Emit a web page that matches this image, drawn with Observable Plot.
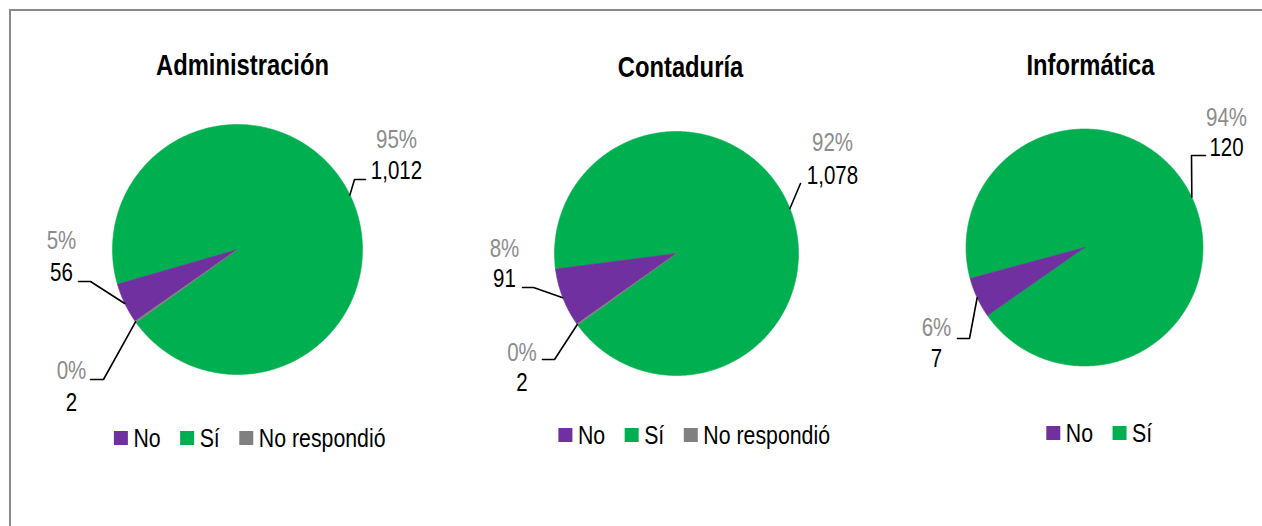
<!DOCTYPE html>
<html><head><meta charset="utf-8">
<script src="https://cdn.jsdelivr.net/npm/d3@7"></script>
<script src="https://cdn.jsdelivr.net/npm/@observablehq/plot@0.6"></script>
<style>
body{margin:0;background:#fff;}
#wrap{position:relative;width:1262px;height:526px;overflow:hidden;background:#fff;}
#border{position:absolute;left:9px;top:9px;width:1300px;height:600px;border:2px solid #8a8a8a;box-sizing:border-box;pointer-events:none;}
#chart{position:absolute;left:0;top:0;}
</style></head><body>
<div id="wrap"><div id="chart"></div><div id="border"></div></div>
<script>
// ---- data ----
const categories = ["No", "Sí", "No respondió"];
const titles = ["Administración", "Contaduría", "Informática"];
const administracion = [56, 1012, 2];
const contaduria = [91, 1078, 2];
const informatica = [7, 120];
const seriesList = [administracion, contaduria, informatica];

// ---- styles / layout ----
const colors = {"No": "#7030A0", "Sí": "#00B050", "No respondió": "#808080"};
const FONT = "'Liberation Sans', Arial, sans-serif";
const NARROW = 0.82; // horizontal condensing to mimic a narrow face
const W = 1262, H = 526;
const pies = [
  {cx: 237, cy: 249, r: 125, start: 235, titleX: 242, titleY: 65, legendX: 249.5, legendY: 438},
  {cx: 676, cy: 253, r: 122, start: 234.7, titleX: 680, titleY: 67, legendX: 694, legendY: 435},
  {cx: 1084, cy: 247, r: 118.5, start: 235, titleX: 1090, titleY: 65, legendX: 1099, legendY: 433}
];
// label placement: [label centre x, pct y, value y, leader points after the slice edge]
const labelLayout = [
  [[61, 240, 272, [[90, 281], [78, 281]]], [396, 139, 170, [[354, 179], [365, 179]]], [71, 370, 402, [[103, 379], [90, 379]]]],
  [[504, 248, 278, [[533, 287], [522, 287]]], [832, 142, 175, [[800, 183]]], [521.5, 352, 382, [[554, 359], [542, 359]]]],
  [[936, 327, 358, [[969, 338], [957, 338]]], [1226, 117, 147, [[1191, 155], [1205, 155]]]]
];

const rad = d => d * Math.PI / 180;
const pt = (p, a, r) => [p.cx + Math.sin(rad(a)) * r, p.cy - Math.cos(rad(a)) * r];

const marks = [];
const fmt = d3.format(",");
const ctx = document.createElement("canvas").getContext("2d");
ctx.font = `26px ${FONT}`;

seriesList.forEach((vals, i) => {
  const p = pies[i];
  const total = d3.sum(vals);
  let a = p.start;
  const slices = vals.map((v, j) => {
    const span = v / total * 360;
    const s = {cat: categories[j], v, a0: a, a1: a + span, pct: Math.round(v / total * 100)};
    a += span;
    return s;
  });
  const order = slices.map((s, j) => j).sort((x, y) => slices[y].v - slices[x].v);
  order.forEach(j => {
    const s = slices[j];
    const pts = [[p.cx, p.cy]];
    const n = Math.max(2, Math.ceil((s.a1 - s.a0) / 0.5));
    for (let k = 0; k <= n; k++) pts.push(pt(p, s.a0 + (s.a1 - s.a0) * k / n, p.r));
    pts.push([p.cx, p.cy]);
    marks.push(Plot.line(pts, {x: d => d[0], y: d => d[1], fill: colors[s.cat], stroke: colors[s.cat], strokeWidth: 0.6, curve: "linear"}));
  });
  slices.forEach((s, j) => {
    const L = labelLayout[i][j];
    const mid = (s.a0 + s.a1) / 2;
    const leader = [pt(p, mid, p.r), ...L[3]];
    marks.push(Plot.line(leader, {x: d => d[0], y: d => d[1], stroke: "#000", strokeWidth: 1.6}));
    marks.push(Plot.text([s], {x: () => L[0], y: () => L[1], text: d => d.pct + "%", fill: "#8c8c8c", fontSize: 25, fontFamily: FONT, textAnchor: "middle", lineAnchor: "middle"}));
    marks.push(Plot.text([s], {x: () => L[0], y: () => L[2], text: d => fmt(d.v), fill: "#000", fontSize: 25, fontFamily: FONT, textAnchor: "middle", lineAnchor: "middle"}));
  });
  marks.push(Plot.text([titles[i]], {x: () => p.titleX, y: () => p.titleY, text: d => d, fontSize: 29, fontWeight: "bold", fontFamily: FONT, fill: "#000", textAnchor: "middle", lineAnchor: "middle"}));
  const cats = categories.slice(0, vals.length);
  const sq = 14, gap1 = 5, gap2 = 20;
  const widths = cats.map(c => ctx.measureText(c).width * NARROW);
  const totalW = d3.sum(widths) + cats.length * (sq + gap1) + (cats.length - 1) * gap2;
  let x = p.legendX - totalW / 2;
  const items = cats.map((c, k) => {
    const it = {cat: c, x0: x, tx: x + sq + gap1};
    x += sq + gap1 + widths[k] + gap2;
    return it;
  });
  marks.push(Plot.rect(items, {x1: d => d.x0, x2: d => d.x0 + sq, y1: () => p.legendY - sq / 2, y2: () => p.legendY + sq / 2, fill: d => colors[d.cat]}));
  marks.push(Plot.text(items, {x: d => d.tx, y: () => p.legendY, text: d => d.cat, fontSize: 26, fontFamily: FONT, fill: "#000", textAnchor: "start", lineAnchor: "middle"}));
});

const chart = Plot.plot({
  width: W, height: H,
  margin: 0,
  x: {type: "linear", domain: [0, W], range: [0, W], axis: null},
  y: {type: "linear", domain: [0, H], range: [0, H], axis: null},
  style: {background: "#fff", overflow: "visible"},
  marks
});
// condense text horizontally around its anchor
chart.querySelectorAll("text").forEach(t => {
  const tr = t.getAttribute("transform");
  if (tr && /translate/.test(tr)) {
    t.setAttribute("transform", tr + ` scale(${NARROW},1)`);
  } else {
    const x = +(t.getAttribute("x") || 0), y = +(t.getAttribute("y") || 0);
    t.removeAttribute("x"); t.removeAttribute("y");
    t.setAttribute("transform", `translate(${x},${y}) scale(${NARROW},1)`);
  }
});
document.getElementById("chart").appendChild(chart);
</script>
</body></html>
